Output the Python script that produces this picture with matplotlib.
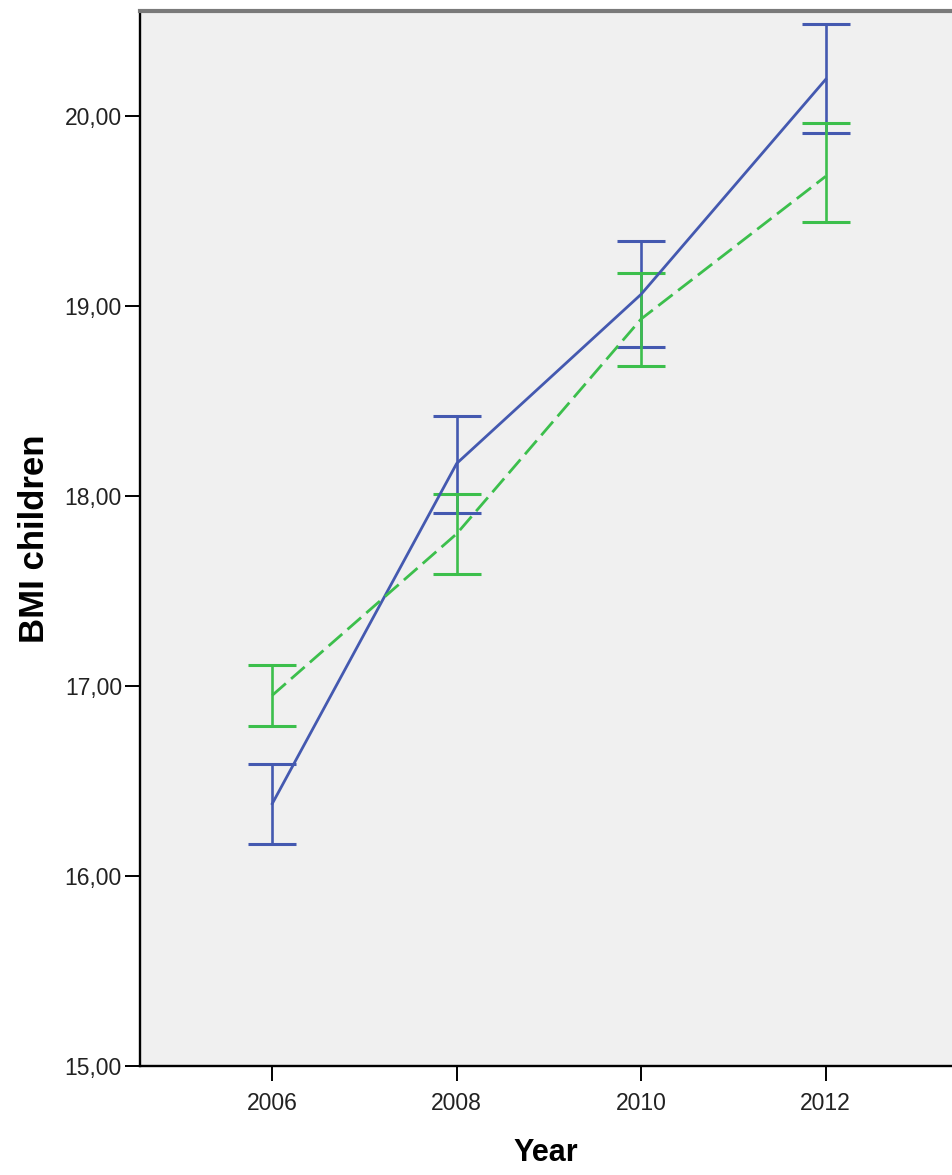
import matplotlib
matplotlib.use('Agg')
import matplotlib.pyplot as plt

plt.rcParams['font.family'] = ['Liberation Sans', 'DejaVu Sans']

years = [2006, 2008, 2010, 2012]
# solid blue series: mean, lower and upper error bar ends
blue_mean = [16.38, 18.17, 19.06, 20.19]
blue_low = [16.17, 17.91, 18.78, 19.91]
blue_high = [16.59, 18.42, 19.34, 20.48]
# dashed green series
green_mean = [16.95, 17.80, 18.93, 19.68]
green_low = [16.79, 17.59, 18.68, 19.44]
green_high = [17.11, 18.01, 19.17, 19.96]

yticks_vals = [15, 16, 17, 18, 19, 20]
ytick_labels = ['15,00', '16,00', '17,00', '18,00', '19,00', '20,00']
xtick_labels = ['2006', '2008', '2010', '2012']

W, H = 952, 1175
fig = plt.figure(figsize=(W/100, H/100), dpi=100)
ax = fig.add_axes([140/W, (H-1066)/H, (W-140)/W, (1066-11)/H])
ax.set_facecolor('#f0f0f0')

blue = '#4459b0'
green = '#3cbf4c'

def draw(means, lows, highs, color, ls, dashes=None):
    yerr = [[m-l for m, l in zip(means, lows)], [h-m for m, h in zip(means, highs)]]
    eb = ax.errorbar(years, means, yerr=yerr, color=color, lw=2, capsize=17,
                     capthick=2.2, elinewidth=1.9, zorder=3)
    line = eb.lines[0]
    line.set_linestyle(ls)
    if dashes:
        line.set_dashes(dashes)

draw(blue_mean, blue_low, blue_high, blue, '-')
draw(green_mean, green_low, green_high, green, '--', (6.5, 2.5))

ax.set_xlim(2004.566, 2013.37)
ax.set_ylim(15, 20.55)
ax.set_xticks(years)
ax.set_xticklabels(xtick_labels)
ax.set_yticks(yticks_vals)
ax.set_yticklabels(ytick_labels)
ax.tick_params(axis='both', labelsize=16.5, length=11, width=1.4, color='black',
               labelcolor='#222222')
ax.tick_params(axis='x', pad=8)
ax.tick_params(axis='y', pad=2)

for s in ['left', 'bottom']:
    ax.spines[s].set_linewidth(1.7)
    ax.spines[s].set_color('black')
ax.spines['top'].set_linewidth(3)
ax.spines['top'].set_color('#7a7a7a')
ax.spines['right'].set_visible(False)

ax.set_xlabel('Year', fontsize=22, fontweight='bold', labelpad=16)
ax.set_ylabel('BMI children', fontsize=25, fontweight='bold', labelpad=10)

fig.savefig('out.png', dpi=100)
